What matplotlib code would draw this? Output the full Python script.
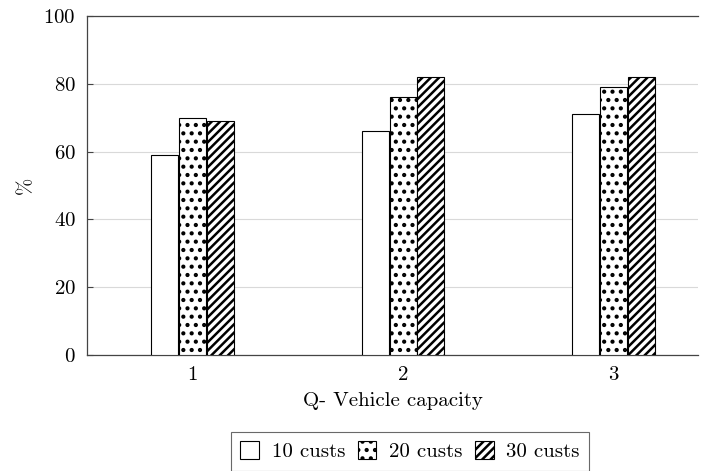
import matplotlib
matplotlib.use("Agg")
import matplotlib.pyplot as plt
import numpy as np
from matplotlib import rcParams

rcParams['font.family'] = 'cmr10'
rcParams['axes.formatter.use_mathtext'] = True
rcParams['font.size'] = 15
rcParams['hatch.linewidth'] = 1.8

categories = [1, 2, 3]
series_names = ['10 custs', '20 custs', '30 custs']
cust10 = [59, 66, 71]
cust20 = [70, 76, 79]
cust30 = [69, 82, 82]

fig = plt.figure(figsize=(7.09, 4.71), dpi=100)
ax = fig.add_axes([87 / 709, 1 - 355 / 471, (698 - 87) / 709, (355 - 16) / 471])

x = np.array(categories, dtype=float)
w = 0.128
hatches = ['', '..', '////']
for i, (vals, name, h) in enumerate(zip([cust10, cust20, cust30], series_names, hatches)):
    ax.bar(x + (i - 1) * (w + 0.004), vals, width=w, color='white',
           edgecolor='black', linewidth=0.8, hatch=h, label=name, zorder=3)

ax.set_xlim(0.5, 3.4)
ax.set_ylim(0, 100)
ax.set_xticks(categories)
ax.set_yticks([0, 20, 40, 60, 80, 100])
ax.yaxis.grid(True, color='#d9d9d9', linewidth=0.8, zorder=0)
ax.spines['right'].set_visible(False)
for s in ['left', 'bottom', 'top']:
    ax.spines[s].set_color('#444444')
    ax.spines[s].set_linewidth(0.9)
ax.tick_params(axis='both', direction='in', length=0, pad=8, colors='black')
ax.tick_params(axis='y', length=4, color='#444444')
ax.set_xlabel('Q- Vehicle capacity', labelpad=6)
ax.set_ylabel('%', labelpad=6)

leg = ax.legend(loc='upper center', ncol=3,
                frameon=True, fancybox=False, edgecolor='#444444',
                handlelength=0.9, handleheight=0.9, handletextpad=0.6,
                columnspacing=0.6, borderpad=0.45, borderaxespad=0)
leg.set_bbox_to_anchor((410 / 709, 1 - 432 / 471), transform=fig.transFigure)
leg.get_frame().set_linewidth(0.8)

fig.savefig('out.png', dpi=100)
